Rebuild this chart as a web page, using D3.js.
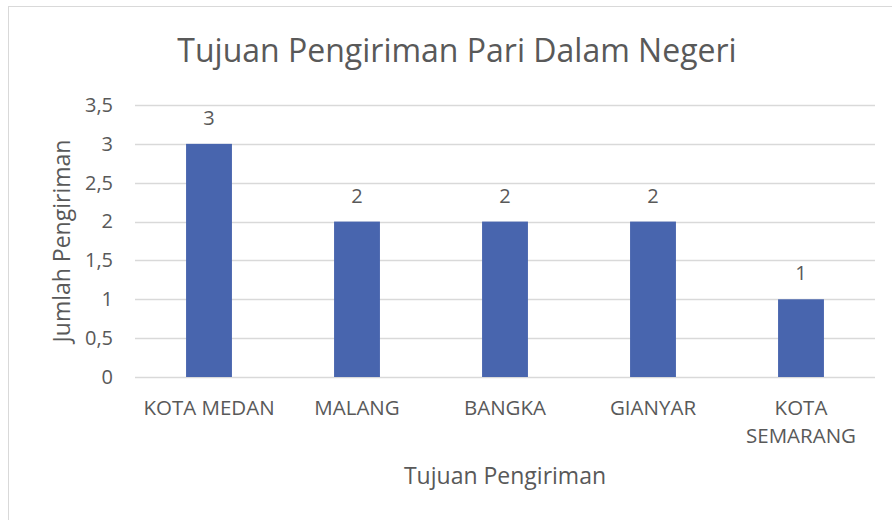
<!DOCTYPE html>
<html>
<head>
<meta charset="utf-8">
<script src="https://cdn.jsdelivr.net/npm/d3@7"></script>
<style>
  body { margin: 0; background: #fff; }
  svg text { font-family: "Open Sans", "Noto Sans", sans-serif; fill: #595959; }
</style>
</head>
<body>
<svg width="892" height="520"></svg>
<script>
let categories = ['KOTA MEDAN', 'MALANG', 'BANGKA', 'GIANYAR', 'KOTA SEMARANG'],
    values = [3, 2, 2, 2, 1],
    y_ticks = [0, 0.5, 1, 1.5, 2, 2.5, 3, 3.5];

let svg = d3.select('svg');

// chart frame (runs past the right/bottom edge like the screenshot)
svg.append('rect')
    .attr('x', 8.5).attr('y', 6.5)
    .attr('width', 900).attr('height', 530)
    .attr('fill', '#fff')
    .attr('stroke', '#d9d9d9');

let xScale = d3.scaleBand()
    .domain(categories)
    .range([135, 875])
    .paddingInner(0.69)
    .paddingOuter(0.345);

let yScale = d3.scaleLinear()
    .domain([0, 3.5])
    .range([377, 105]);

// gridlines
svg.append('g')
    .selectAll('line')
    .data(y_ticks)
    .enter()
    .append('line')
    .attr('x1', 135).attr('x2', 875)
    .attr('y1', d => Math.round(yScale(d)) + 0.5)
    .attr('y2', d => Math.round(yScale(d)) + 0.5)
    .attr('stroke', '#d9d9d9')
    .attr('stroke-width', 1.3);

// y axis labels
let yAxis = svg.append('g')
    .attr('transform', 'translate(135,0)')
    .call(d3.axisLeft(yScale).tickValues(y_ticks).tickSize(0).tickPadding(22)
        .tickFormat(d => String(d).replace('.', ',')));
yAxis.select('.domain').remove();
yAxis.selectAll('text')
    .style('font-size', '20px')
    .attr('fill', '#595959');

// bars
svg.append('g')
    .selectAll('rect')
    .data(values)
    .enter()
    .append('rect')
    .attr('x', (d, i) => xScale(categories[i]))
    .attr('y', d => yScale(d))
    .attr('width', xScale.bandwidth())
    .attr('height', d => yScale(0) - yScale(d))
    .attr('fill', '#4865ae');

// value labels
svg.append('g')
    .selectAll('text')
    .data(values)
    .enter()
    .append('text')
    .attr('x', (d, i) => xScale(categories[i]) + xScale.bandwidth() / 2)
    .attr('y', d => yScale(d) - 19)
    .attr('text-anchor', 'middle')
    .style('font-size', '20px')
    .text(d => d);

// category labels, wrapped like Excel
let catG = svg.append('g')
    .selectAll('text')
    .data(categories)
    .enter()
    .append('text')
    .attr('text-anchor', 'middle')
    .style('font-size', '20.5px');
catG.each(function(d) {
    let lines = (d === 'KOTA SEMARANG') ? d.split(' ') : [d],
        cx = xScale(d) + xScale.bandwidth() / 2;
    lines.forEach((l, j) => {
        d3.select(this).append('tspan')
            .attr('x', cx)
            .attr('y', 415 + j * 28)
            .text(l);
    });
});

// title
svg.append('text')
    .attr('x', 457).attr('y', 62)
    .attr('text-anchor', 'middle')
    .style('font-size', '32px')
    .text('Tujuan Pengiriman Pari Dalam Negeri');

// axis titles
svg.append('text')
    .attr('x', 505).attr('y', 484)
    .attr('text-anchor', 'middle')
    .style('font-size', '23px')
    .text('Tujuan Pengiriman');

svg.append('text')
    .attr('transform', 'translate(70,241) rotate(-90)')
    .attr('text-anchor', 'middle')
    .style('font-size', '23px')
    .text('Jumlah Pengiriman');
</script>
</body>
</html>
